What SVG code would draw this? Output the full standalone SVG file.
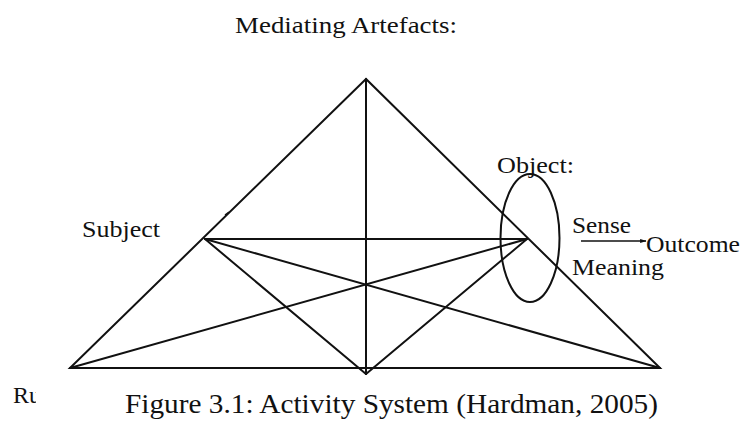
<svg xmlns="http://www.w3.org/2000/svg" width="743" height="423" viewBox="0 0 743 423">
<defs>
<style>
.t{font-family:"Liberation Serif","Times New Roman",serif;fill:#111;}
.l{stroke:#111;stroke-width:2;fill:none;stroke-linecap:round;}
</style>
<marker id="ah" viewBox="0 0 10 10" refX="9" refY="5" markerWidth="5" markerHeight="5" orient="auto"><path d="M0,2 L10,5 L0,8 z" fill="#111"/></marker>
<clipPath id="rc"><rect x="0" y="380" width="36" height="40"/></clipPath>
</defs>
<rect width="743" height="423" fill="#fff"/>
<g id="connectors">
<path class="l" d="M366,79 L70,368 L660,368 Z"/>
<line class="l" x1="366" y1="79" x2="366" y2="374"/>
<line class="l" x1="205" y1="239" x2="527" y2="239"/>
<line class="l" x1="205" y1="239" x2="660" y2="368"/>
<line class="l" x1="205" y1="239" x2="366" y2="374"/>
<line class="l" x1="527" y1="239" x2="70" y2="368"/>
<line class="l" x1="527" y1="239" x2="366" y2="374"/>
<line x1="225" y1="215" x2="229" y2="212" stroke="#111" stroke-width="1.5"/>
<line x1="581" y1="241" x2="646" y2="241" stroke="#111" stroke-width="1.3" marker-end="url(#ah)"/>
</g>
<g id="mediating"><text class="t" x="235" y="33" font-size="24" textLength="222" lengthAdjust="spacingAndGlyphs">Mediating Artefacts:</text></g>
<g id="subject"><text class="t" x="82" y="237" font-size="24" textLength="78" lengthAdjust="spacingAndGlyphs">Subject</text></g>
<g id="object">
<ellipse cx="530" cy="238" rx="29.5" ry="64" class="l"/>
<text class="t" x="497" y="173" font-size="24" textLength="77" lengthAdjust="spacingAndGlyphs">Object:</text>
<text class="t" x="572" y="233" font-size="24" textLength="59" lengthAdjust="spacingAndGlyphs">Sense</text>
<text class="t" x="572" y="275" font-size="24" textLength="92" lengthAdjust="spacingAndGlyphs">Meaning</text>
</g>
<g id="outcome"><text class="t" x="646" y="252" font-size="24" textLength="94" lengthAdjust="spacingAndGlyphs">Outcome</text></g>
<g id="rules"><text class="t" x="13" y="403" font-size="24" clip-path="url(#rc)">Ru</text></g>
<g id="caption"><text class="t" x="125" y="413" font-size="28" textLength="533" lengthAdjust="spacingAndGlyphs">Figure 3.1: Activity System (Hardman, 2005)</text></g>
</svg>
